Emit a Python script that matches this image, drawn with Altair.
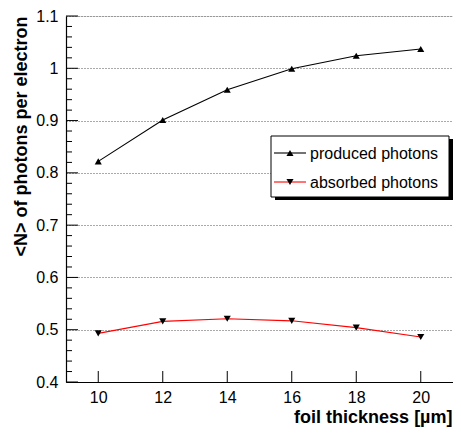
import altair as alt
import pandas as pd

# ---- data ----
thickness = [10, 12, 14, 16, 18, 20]
produced = [0.822, 0.901, 0.959, 0.999, 1.024, 1.037]
absorbed = [0.493, 0.516, 0.521, 0.517, 0.504, 0.486]
series_names = ["produced", "absorbed"]
legend_labels = ["produced photons", "absorbed photons"]

x_ticks = [10, 12, 14, 16, 18, 20]
y_major = [0.4, 0.5, 0.6, 0.7, 0.8, 0.9, 1.0, 1.1]
y_minor = [0.42, 0.44, 0.46, 0.48, 0.52, 0.54, 0.56, 0.58, 0.62, 0.64, 0.66, 0.68,
           0.72, 0.74, 0.76, 0.78, 0.82, 0.84, 0.86, 0.88, 0.92, 0.94, 0.96, 0.98,
           1.02, 1.04, 1.06, 1.08]

FONT = "Liberation Sans"
W, H = 387, 366

df = pd.DataFrame({
    "x": thickness * 2,
    "y": produced + absorbed,
    "series": [series_names[0]] * len(thickness) + [series_names[1]] * len(thickness),
})
df_ymaj = pd.DataFrame({"y": y_major})
df_ymin = pd.DataFrame({"y": y_minor})
df_xt = pd.DataFrame({"x": x_ticks})
dummy = pd.DataFrame({"k": [0]})

xscale = alt.Scale(domain=[9, 21], nice=False, zero=False)
yscale = alt.Scale(domain=[0.4, 1.1], nice=False, zero=False)

X = alt.X("x:Q", scale=xscale, axis=alt.Axis(
    values=x_ticks, format="d", ticks=False, tickSize=0, grid=False,
    labelPadding=7, labelFontSize=16, labelFont=FONT, labelColor="black",
    domainColor="black", domainWidth=1.2,
    title="foil thickness [\u00b5m]", titleFont=FONT, titleFontSize=18, titleFontWeight="bold",
    titleAnchor="end", titleAlign="right", titleX=W - 1, titleY=40, titleBaseline="alphabetic",
    titleColor="black"))
Y = alt.Y("y:Q", scale=yscale, axis=alt.Axis(
    values=y_major, format=".1~f", ticks=False, tickSize=0, grid=True,
    gridColor="#555555", gridDash=[1, 2], gridWidth=1,
    labelPadding=8, labelFontSize=16, labelFont=FONT, labelColor="black",
    domainColor="black", domainWidth=1.2,
    title="<N> of photons per electron", titleFont=FONT, titleFontSize=18, titleFontWeight="bold",
    titleAnchor="end", titleAlign="right", titleX=-40, titleY=0, titleBaseline="alphabetic",
    titleColor="black"))

color = alt.Color("series:N", scale=alt.Scale(domain=series_names, range=["black", "red"]), legend=None)
shape = alt.Shape("series:N", scale=alt.Scale(domain=series_names, range=["triangle-up", "triangle-down"]), legend=None)

lines = alt.Chart(df).mark_line(strokeWidth=1.1).encode(x=X, y=Y, color=color, detail="series:N")
points = alt.Chart(df).mark_point(filled=True, size=50, opacity=1, color="black").encode(x=X, y=Y, shape=shape)

ymaj_ticks = alt.Chart(df_ymaj).mark_rule(color="black", strokeWidth=1).encode(
    y=Y, x=alt.value(0), x2=alt.value(12))
ymin_ticks = alt.Chart(df_ymin).mark_rule(color="black", strokeWidth=1).encode(
    y=Y, x=alt.value(0), x2=alt.value(6))
x_tick_rules = alt.Chart(df_xt).mark_rule(color="black", strokeWidth=1).encode(
    x=X, y=alt.value(H), y2=alt.value(H - 11))

# legend box (pixel offsets inside the plot area)
LX0, LX1, LY0, LY1 = W - 182, W - 4, 120, 181
shadow = alt.Chart(dummy).mark_rect(color="black").encode(
    x=alt.value(LX0 + 4), x2=alt.value(LX1 + 4), y=alt.value(LY0 + 3), y2=alt.value(LY1 + 3))
box = alt.Chart(dummy).mark_rect(fill="white", stroke="black", strokeWidth=1).encode(
    x=alt.value(LX0), x2=alt.value(LX1), y=alt.value(LY0), y2=alt.value(LY1))
leg_layers = []
for i, (lab, col, shp) in enumerate(zip(legend_labels, ["black", "red"], ["triangle-up", "triangle-down"])):
    yy = LY0 + 17 + i * 29
    leg_layers.append(alt.Chart(dummy).mark_rule(color=col, strokeWidth=1.1).encode(
        x=alt.value(LX0 + 3), x2=alt.value(LX0 + 35), y=alt.value(yy)))
    leg_layers.append(alt.Chart(dummy).mark_point(shape=shp, filled=True, size=50, opacity=1, color="black").encode(
        x=alt.value(LX0 + 19), y=alt.value(yy)))
    leg_layers.append(alt.Chart(dummy).mark_text(align="left", baseline="middle", font=FONT, fontSize=16,
                                                 color="black").encode(
        x=alt.value(LX0 + 39), y=alt.value(yy + 0.5), text=alt.value(lab)))

chart = alt.layer(
    ymaj_ticks, ymin_ticks, x_tick_rules, lines, points, shadow, box, *leg_layers
).properties(
    width=W, height=H,
    padding={"left": 58, "top": 8, "right": 0, "bottom": 46},
    autosize=alt.AutoSizeParams(type="none"),
).configure_view(stroke="black", strokeWidth=1.2).configure(background="white")

chart.save("out.html", embed_options={"renderer": "svg", "actions": False})
